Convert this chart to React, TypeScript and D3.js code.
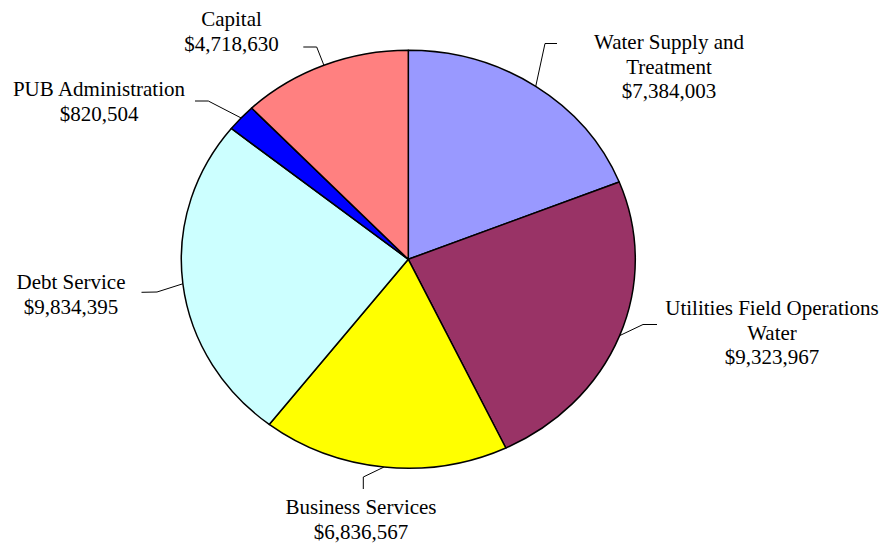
import React from "react";
import * as d3 from "d3";

const categories = [
  "Water Supply and Treatment",
  "Utilities Field Operations Water",
  "Business Services",
  "Debt Service",
  "PUB Administration",
  "Capital",
];
const values = [7384003, 9323967, 6836567, 9834395, 820504, 4718630];
const labelLines = [
  ["Water Supply and", "Treatment"],
  ["Utilities Field Operations", "Water"],
  ["Business Services"],
  ["Debt Service"],
  ["PUB Administration"],
  ["Capital"],
];
const colors = ["#9999FF", "#993366", "#FFFF00", "#CCFFFF", "#0000FF", "#FF8080"];

// label layout (text centre x, first baseline y, elbow, line end)
const labelLayout = [
  { x: 669, y: 49, elbow: [545, 43.5], end: [557, 43.5] },
  { x: 772, y: 315, elbow: [643, 324.5], end: [657, 324.5] },
  { x: 361, y: 514, elbow: [363.3, 477], end: [363.3, 489] },
  { x: 71, y: 289, elbow: [157, 292], end: [141.5, 292.3] },
  { x: 99, y: 96, elbow: [208.3, 101], end: [195, 101] },
  { x: 231.5, y: 26, elbow: [316.7, 47], end: [303.3, 47] },
];

const W = 883;
const H = 544;
const cx = 408.3;
const cy = 259.3;
const rx = 227;
const ry = 209;
const lineH = 24.5;
const fmt = d3.format("$,");

export default function App() {
  const data = categories.map((c, i) => ({ name: c, value: values[i], i }));
  const pie = d3
    .pie<any>()
    .sort(null)
    .value((d: any) => d.value)
    .startAngle(0)
    .endAngle(2 * Math.PI);
  const arcs = pie(data);
  const arc = d3.arc<any>().innerRadius(0).outerRadius(rx);

  return (
    <svg
      width={W}
      height={H}
      style={{ position: "absolute", left: 0, top: 0, background: "#fff" }}
    >
      <g transform={`translate(${cx},${cy}) scale(1,${ry / rx})`}>
        {arcs.map((a, i) => (
          <path
            key={i}
            d={arc(a) as string}
            fill={colors[i]}
            stroke="#000"
            strokeWidth={1.5}
            vectorEffect="non-scaling-stroke"
            strokeLinejoin="round"
          />
        ))}
      </g>
      {arcs.map((a, i) => {
        const mid = (a.startAngle + a.endAngle) / 2;
        const px = cx + rx * Math.sin(mid);
        const py = cy - ry * Math.cos(mid);
        const L = labelLayout[i];
        const pts = [[px, py], L.elbow, L.end];
        const lines = [...labelLines[i], fmt(values[i])];
        return (
          <g key={"l" + i}>
            <polyline
              points={pts.map((p) => p.join(",")).join(" ")}
              fill="none"
              stroke="#000"
              strokeWidth={1}
            />
            <text
              textAnchor="middle"
              fill="#000"
              style={{ fontFamily: "Liberation Serif", fontSize: "21px" }}
            >
              {lines.map((t, j) => (
                <tspan key={j} x={L.x} y={L.y + j * lineH}>
                  {t}
                </tspan>
              ))}
            </text>
          </g>
        );
      })}
    </svg>
  );
}
